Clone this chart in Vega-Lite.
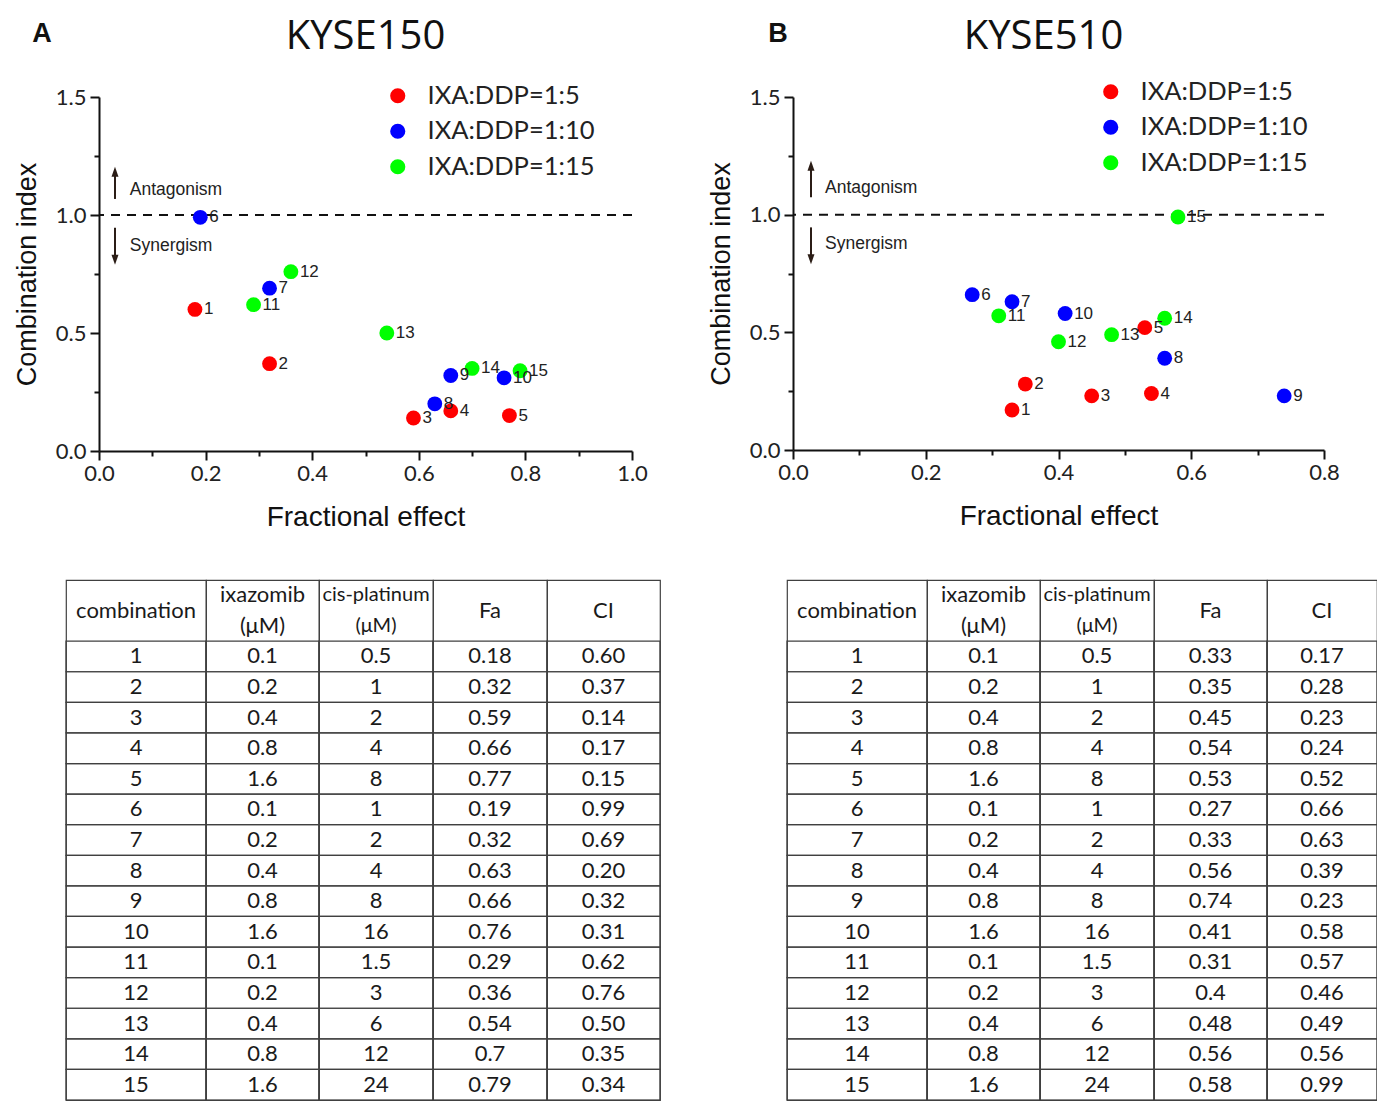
{
  "$schema": "https://vega.github.io/schema/vega-lite/v6.json",
  "background": "white",
  "padding": {"left": 12, "top": 17, "right": 0, "bottom": 0},
  "datasets": {
    "A": [
      {"combination": 1, "ixazomib": 0.1, "cisplatinum": 0.5, "Fa": 0.18, "CI": 0.60, "ratio": "IXA:DDP=1:5"},
      {"combination": 2, "ixazomib": 0.2, "cisplatinum": 1, "Fa": 0.32, "CI": 0.37, "ratio": "IXA:DDP=1:5"},
      {"combination": 3, "ixazomib": 0.4, "cisplatinum": 2, "Fa": 0.59, "CI": 0.14, "ratio": "IXA:DDP=1:5"},
      {"combination": 4, "ixazomib": 0.8, "cisplatinum": 4, "Fa": 0.66, "CI": 0.17, "ratio": "IXA:DDP=1:5"},
      {"combination": 5, "ixazomib": 1.6, "cisplatinum": 8, "Fa": 0.77, "CI": 0.15, "ratio": "IXA:DDP=1:5"},
      {"combination": 6, "ixazomib": 0.1, "cisplatinum": 1, "Fa": 0.19, "CI": 0.99, "ratio": "IXA:DDP=1:10"},
      {"combination": 7, "ixazomib": 0.2, "cisplatinum": 2, "Fa": 0.32, "CI": 0.69, "ratio": "IXA:DDP=1:10"},
      {"combination": 8, "ixazomib": 0.4, "cisplatinum": 4, "Fa": 0.63, "CI": 0.20, "ratio": "IXA:DDP=1:10"},
      {"combination": 9, "ixazomib": 0.8, "cisplatinum": 8, "Fa": 0.66, "CI": 0.32, "ratio": "IXA:DDP=1:10"},
      {"combination": 10, "ixazomib": 1.6, "cisplatinum": 16, "Fa": 0.76, "CI": 0.31, "ratio": "IXA:DDP=1:10"},
      {"combination": 11, "ixazomib": 0.1, "cisplatinum": 1.5, "Fa": 0.29, "CI": 0.62, "ratio": "IXA:DDP=1:15"},
      {"combination": 12, "ixazomib": 0.2, "cisplatinum": 3, "Fa": 0.36, "CI": 0.76, "ratio": "IXA:DDP=1:15"},
      {"combination": 13, "ixazomib": 0.4, "cisplatinum": 6, "Fa": 0.54, "CI": 0.50, "ratio": "IXA:DDP=1:15"},
      {"combination": 14, "ixazomib": 0.8, "cisplatinum": 12, "Fa": 0.7, "CI": 0.35, "ratio": "IXA:DDP=1:15"},
      {"combination": 15, "ixazomib": 1.6, "cisplatinum": 24, "Fa": 0.79, "CI": 0.34, "ratio": "IXA:DDP=1:15"}
    ],
    "B": [
      {"combination": 1, "ixazomib": 0.1, "cisplatinum": 0.5, "Fa": 0.33, "CI": 0.17, "ratio": "IXA:DDP=1:5"},
      {"combination": 2, "ixazomib": 0.2, "cisplatinum": 1, "Fa": 0.35, "CI": 0.28, "ratio": "IXA:DDP=1:5"},
      {"combination": 3, "ixazomib": 0.4, "cisplatinum": 2, "Fa": 0.45, "CI": 0.23, "ratio": "IXA:DDP=1:5"},
      {"combination": 4, "ixazomib": 0.8, "cisplatinum": 4, "Fa": 0.54, "CI": 0.24, "ratio": "IXA:DDP=1:5"},
      {"combination": 5, "ixazomib": 1.6, "cisplatinum": 8, "Fa": 0.53, "CI": 0.52, "ratio": "IXA:DDP=1:5"},
      {"combination": 6, "ixazomib": 0.1, "cisplatinum": 1, "Fa": 0.27, "CI": 0.66, "ratio": "IXA:DDP=1:10"},
      {"combination": 7, "ixazomib": 0.2, "cisplatinum": 2, "Fa": 0.33, "CI": 0.63, "ratio": "IXA:DDP=1:10"},
      {"combination": 8, "ixazomib": 0.4, "cisplatinum": 4, "Fa": 0.56, "CI": 0.39, "ratio": "IXA:DDP=1:10"},
      {"combination": 9, "ixazomib": 0.8, "cisplatinum": 8, "Fa": 0.74, "CI": 0.23, "ratio": "IXA:DDP=1:10"},
      {"combination": 10, "ixazomib": 1.6, "cisplatinum": 16, "Fa": 0.41, "CI": 0.58, "ratio": "IXA:DDP=1:10"},
      {"combination": 11, "ixazomib": 0.1, "cisplatinum": 1.5, "Fa": 0.31, "CI": 0.57, "ratio": "IXA:DDP=1:15"},
      {"combination": 12, "ixazomib": 0.2, "cisplatinum": 3, "Fa": 0.4, "CI": 0.46, "ratio": "IXA:DDP=1:15"},
      {"combination": 13, "ixazomib": 0.4, "cisplatinum": 6, "Fa": 0.48, "CI": 0.49, "ratio": "IXA:DDP=1:15"},
      {"combination": 14, "ixazomib": 0.8, "cisplatinum": 12, "Fa": 0.56, "CI": 0.56, "ratio": "IXA:DDP=1:15"},
      {"combination": 15, "ixazomib": 1.6, "cisplatinum": 24, "Fa": 0.58, "CI": 0.99, "ratio": "IXA:DDP=1:15"}
    ]
  },
  "config": {"view": {"stroke": null}, "concat": {"spacing": 0}},
  "resolve": {"scale": {"color": "independent"}, "legend": {"color": "independent"}},
  "spacing": 48,
  "vconcat": [
    {
      "spacing": 0,
      "resolve": {"scale": {"color": "independent"}, "legend": {"color": "independent"}},
      "hconcat": [
        {"width": 1, "height": 1, "data": {"values": [{}]}, "mark": {"type": "rect", "opacity": 0}, "encoding": {}},
        {
          "spacing": 59,
          "resolve": {"scale": {"color": "independent"}, "legend": {"color": "independent"}},
          "hconcat": [
            {
              "title": {"text": "A", "anchor": "start", "frame": "bounds", "font": "Liberation Sans", "fontSize": 27, "fontWeight": "bold", "color": "#111", "offset": 0, "dx": 19, "dy": 31},
              "vconcat": [
                {
                  "title": {"text": "KYSE150", "font": "Open Sans", "fontSize": 40, "fontWeight": "normal", "color": "#111", "offset": 29},
                  "width": 533,
                  "height": 354,
                  "data": {"name": "A"},
                  "resolve": {"axis": {"x": "independent", "y": "independent"}},
                  "layer": [
                    {"data": {"values": [{}]}, "mark": {"type": "rule", "strokeDash": [9, 7], "strokeWidth": 2, "color": "#111"}, "encoding": {"y": {"datum": 1, "type": "quantitative", "axis": null}}},
                    {"data": {"values": [{}]}, "mark": {"type": "rule", "strokeWidth": 2, "color": "#2b1d16"}, "encoding": {
                      "x": {"datum": 0.03, "type": "quantitative", "axis": {"orient": "bottom", "values": [0.1, 0.3, 0.5, 0.7, 0.9], "labels": false, "domain": false, "grid": false, "title": null, "tickSize": 5, "tickWidth": 2, "tickColor": "#111"}},
                      "y": {"datum": 1.068, "type": "quantitative", "axis": {"orient": "left", "values": [0.25, 0.75, 1.25], "labels": false, "domain": false, "grid": false, "title": null, "tickSize": 5, "tickWidth": 2, "tickColor": "#111"}},
                      "y2": {"datum": 1.18}}},
                    {"data": {"values": [{}]}, "mark": {"type": "point", "shape": "M-0.7,1L0,-1L0.7,1Z", "filled": true, "size": 100, "color": "#2b1d16", "opacity": 1}, "encoding": {"x": {"datum": 0.03, "type": "quantitative", "axis": null}, "y": {"datum": 1.183, "type": "quantitative", "axis": null}}},
                    {"data": {"values": [{}]}, "mark": {"type": "rule", "strokeWidth": 2, "color": "#2b1d16"}, "encoding": {"x": {"datum": 0.03, "type": "quantitative", "axis": null}, "y": {"datum": 0.946, "type": "quantitative", "axis": null}, "y2": {"datum": 0.815}}},
                    {"data": {"values": [{}]}, "mark": {"type": "point", "shape": "M-0.7,-1L0,1L0.7,-1Z", "filled": true, "size": 100, "color": "#2b1d16", "opacity": 1}, "encoding": {"x": {"datum": 0.03, "type": "quantitative", "axis": null}, "y": {"datum": 0.81, "type": "quantitative", "axis": null}}},
                    {"data": {"values": [{}]}, "mark": {"type": "text", "text": "Antagonism", "font": "Liberation Sans", "fontSize": 17.5, "align": "left", "baseline": "middle", "color": "#222"}, "encoding": {"x": {"datum": 0.0577, "type": "quantitative", "axis": null}, "y": {"datum": 1.105, "type": "quantitative", "axis": null}}},
                    {"data": {"values": [{}]}, "mark": {"type": "text", "text": "Synergism", "font": "Liberation Sans", "fontSize": 17.5, "align": "left", "baseline": "middle", "color": "#222"}, "encoding": {"x": {"datum": 0.0577, "type": "quantitative", "axis": null}, "y": {"datum": 0.87, "type": "quantitative", "axis": null}}},
                    {
                      "mark": {"type": "point", "filled": true, "size": 220, "opacity": 1},
                      "encoding": {
                        "x": {"field": "Fa", "type": "quantitative", "scale": {"domain": [0, 1], "nice": false, "zero": false},
                          "axis": {"orient": "bottom", "values": [0, 0.2, 0.4, 0.6, 0.8, 1], "format": ".1f", "tickSize": 9, "title": "Fractional effect", "grid": false, "domainColor": "#111", "domainWidth": 2, "tickColor": "#111", "tickWidth": 2, "labelFont": "Lato", "labelFontSize": 22, "labelColor": "#222", "labelPadding": 3, "labelFlush": false, "labelOverlap": false, "titleFont": "Liberation Sans", "titleFontSize": 28, "titleFontWeight": "normal", "titleColor": "#111", "titlePadding": 19}},
                        "y": {"field": "CI", "type": "quantitative", "scale": {"domain": [0, 1.5], "nice": false, "zero": false},
                          "axis": {"orient": "left", "values": [0, 0.5, 1, 1.5], "format": ".1f", "tickSize": 9, "title": "Combination index", "grid": false, "domainColor": "#111", "domainWidth": 2, "tickColor": "#111", "tickWidth": 2, "labelFont": "Lato", "labelFontSize": 22, "labelColor": "#222", "labelPadding": 4, "labelFlush": false, "labelOverlap": false, "titleFont": "Liberation Sans", "titleFontSize": 27, "titleFontWeight": "normal", "titleColor": "#111", "titlePadding": 14}},
                        "color": {"field": "ratio", "type": "nominal", "scale": {"domain": ["IXA:DDP=1:5", "IXA:DDP=1:10", "IXA:DDP=1:15"], "range": ["#ff0000", "#0000ff", "#00ff00"]},
                          "legend": {"title": null, "orient": "none", "legendX": 286, "legendY": -14, "direction": "vertical", "labelFont": "Lato", "labelFontSize": 25.5, "labelColor": "#222", "labelOffset": 17, "symbolSize": 230, "symbolType": "circle", "symbolStrokeWidth": 0, "rowPadding": 8.5, "padding": 0, "labelLimit": 400}}
                      }
                    },
                    {"mark": {"type": "text", "align": "left", "baseline": "middle", "dx": 9, "font": "Liberation Sans", "fontSize": 17, "color": "#222"}, "encoding": {"x": {"field": "Fa", "type": "quantitative", "axis": null}, "y": {"field": "CI", "type": "quantitative", "axis": null}, "text": {"field": "combination", "type": "nominal"}}}
                  ]
                }
              ]
            },
            {
              "title": {"text": "B", "anchor": "start", "frame": "bounds", "font": "Liberation Sans", "fontSize": 27, "fontWeight": "bold", "color": "#111", "offset": 0, "dx": 61, "dy": 31},
              "vconcat": [
                {
                  "title": {"text": "KYSE510", "font": "Open Sans", "fontSize": 40, "fontWeight": "normal", "color": "#111", "offset": 29, "dx": -15},
                  "width": 531,
                  "height": 353,
                  "data": {"name": "B"},
                  "resolve": {"axis": {"x": "independent", "y": "independent"}},
                  "layer": [
                    {"data": {"values": [{}]}, "mark": {"type": "rule", "strokeDash": [9, 7], "strokeWidth": 2, "color": "#111"}, "encoding": {"y": {"datum": 1, "type": "quantitative", "axis": null}}},
                    {"data": {"values": [{}]}, "mark": {"type": "rule", "strokeWidth": 2, "color": "#2b1d16"}, "encoding": {
                      "x": {"datum": 0.0271, "type": "quantitative", "axis": {"orient": "bottom", "values": [0.1, 0.3, 0.5, 0.7], "labels": false, "domain": false, "grid": false, "title": null, "tickSize": 5, "tickWidth": 2, "tickColor": "#111"}},
                      "y": {"datum": 1.074, "type": "quantitative", "axis": {"orient": "left", "values": [0.25, 0.75, 1.25], "labels": false, "domain": false, "grid": false, "title": null, "tickSize": 5, "tickWidth": 2, "tickColor": "#111"}},
                      "y2": {"datum": 1.205}}},
                    {"data": {"values": [{}]}, "mark": {"type": "point", "shape": "M-0.7,1L0,-1L0.7,1Z", "filled": true, "size": 100, "color": "#2b1d16", "opacity": 1}, "encoding": {"x": {"datum": 0.0271, "type": "quantitative", "axis": null}, "y": {"datum": 1.208, "type": "quantitative", "axis": null}}},
                    {"data": {"values": [{}]}, "mark": {"type": "rule", "strokeWidth": 2, "color": "#2b1d16"}, "encoding": {"x": {"datum": 0.0271, "type": "quantitative", "axis": null}, "y": {"datum": 0.946, "type": "quantitative", "axis": null}, "y2": {"datum": 0.815}}},
                    {"data": {"values": [{}]}, "mark": {"type": "point", "shape": "M-0.7,-1L0,1L0.7,-1Z", "filled": true, "size": 100, "color": "#2b1d16", "opacity": 1}, "encoding": {"x": {"datum": 0.0271, "type": "quantitative", "axis": null}, "y": {"datum": 0.811, "type": "quantitative", "axis": null}}},
                    {"data": {"values": [{}]}, "mark": {"type": "text", "text": "Antagonism", "font": "Liberation Sans", "fontSize": 17.5, "align": "left", "baseline": "middle", "color": "#222"}, "encoding": {"x": {"datum": 0.0482, "type": "quantitative", "axis": null}, "y": {"datum": 1.112, "type": "quantitative", "axis": null}}},
                    {"data": {"values": [{}]}, "mark": {"type": "text", "text": "Synergism", "font": "Liberation Sans", "fontSize": 17.5, "align": "left", "baseline": "middle", "color": "#222"}, "encoding": {"x": {"datum": 0.0482, "type": "quantitative", "axis": null}, "y": {"datum": 0.875, "type": "quantitative", "axis": null}}},
                    {
                      "mark": {"type": "point", "filled": true, "size": 220, "opacity": 1},
                      "encoding": {
                        "x": {"field": "Fa", "type": "quantitative", "scale": {"domain": [0, 0.8], "nice": false, "zero": false},
                          "axis": {"orient": "bottom", "values": [0, 0.2, 0.4, 0.6, 0.8], "format": ".1f", "tickSize": 9, "title": "Fractional effect", "grid": false, "domainColor": "#111", "domainWidth": 2, "tickColor": "#111", "tickWidth": 2, "labelFont": "Lato", "labelFontSize": 22, "labelColor": "#222", "labelPadding": 3, "labelFlush": false, "labelOverlap": false, "titleFont": "Liberation Sans", "titleFontSize": 28, "titleFontWeight": "normal", "titleColor": "#111", "titlePadding": 19}},
                        "y": {"field": "CI", "type": "quantitative", "scale": {"domain": [0, 1.5], "nice": false, "zero": false},
                          "axis": {"orient": "left", "values": [0, 0.5, 1, 1.5], "format": ".1f", "tickSize": 9, "title": "Combination index", "grid": false, "domainColor": "#111", "domainWidth": 2, "tickColor": "#111", "tickWidth": 2, "labelFont": "Lato", "labelFontSize": 22, "labelColor": "#222", "labelPadding": 4, "labelFlush": false, "labelOverlap": false, "titleFont": "Liberation Sans", "titleFontSize": 27, "titleFontWeight": "normal", "titleColor": "#111", "titlePadding": 14}},
                        "color": {"field": "ratio", "type": "nominal", "scale": {"domain": ["IXA:DDP=1:5", "IXA:DDP=1:10", "IXA:DDP=1:15"], "range": ["#ff0000", "#0000ff", "#00ff00"]},
                          "legend": {"title": null, "orient": "none", "legendX": 305, "legendY": -18, "direction": "vertical", "labelFont": "Lato", "labelFontSize": 25.5, "labelColor": "#222", "labelOffset": 17, "symbolSize": 230, "symbolType": "circle", "symbolStrokeWidth": 0, "rowPadding": 8.5, "padding": 0, "labelLimit": 400}}
                      }
                    },
                    {"mark": {"type": "text", "align": "left", "baseline": "middle", "dx": 9, "font": "Liberation Sans", "fontSize": 17, "color": "#222"}, "encoding": {"x": {"field": "Fa", "type": "quantitative", "axis": null}, "y": {"field": "CI", "type": "quantitative", "axis": null}, "text": {"field": "combination", "type": "nominal"}}}
                  ]
                }
              ]
            }
          ]
        }
      ]
    },
    {
      "spacing": 0,
      "hconcat": [
        {"width": 52, "height": 1, "data": {"values": [{}]}, "mark": {"type": "rect", "opacity": 0}, "encoding": {}},
        {
          "spacing": 123,
          "hconcat": [
            {
              "spacing": 0,
              "bounds": "flush",
              "hconcat": [
                {"width": 140, "height": 520, "view": {"stroke": "#404040", "strokeWidth": 1.2},
                  "layer": [
                    {"data": {"name": "A"}, "mark": {"type": "rect", "filled": false, "stroke": "#404040", "strokeWidth": 1.2}, "encoding": {"y": {"field": "combination", "type": "ordinal", "scale": {"domain": ["h1", "h2", 1, 2, 3, 4, 5, 6, 7, 8, 9, 10, 11, 12, 13, 14, 15], "paddingInner": 0, "paddingOuter": 0}, "axis": null}}},
                    {"data": {"name": "A"}, "mark": {"type": "text", "font": "Lato", "fontSize": 22, "baseline": "middle", "color": "#1a1a1a"}, "encoding": {"y": {"field": "combination", "type": "ordinal", "axis": null}, "text": {"field": "combination", "type": "quantitative"}}},
                    {"data": {"values": [{"line": "h1", "label": "combination"}]}, "mark": {"type": "text", "font": "Lato", "fontSize": 22, "baseline": "middle", "color": "#1a1a1a"}, "encoding": {"y": {"field": "line", "type": "ordinal", "bandPosition": 1, "axis": null}, "text": {"field": "label", "type": "nominal"}}}
                  ]},
                {"width": 113, "height": 520, "view": {"stroke": "#404040", "strokeWidth": 1.2},
                  "layer": [
                    {"data": {"name": "A"}, "mark": {"type": "rect", "filled": false, "stroke": "#404040", "strokeWidth": 1.2}, "encoding": {"y": {"field": "combination", "type": "ordinal", "scale": {"domain": ["h1", "h2", 1, 2, 3, 4, 5, 6, 7, 8, 9, 10, 11, 12, 13, 14, 15], "paddingInner": 0, "paddingOuter": 0}, "axis": null}}},
                    {"data": {"name": "A"}, "mark": {"type": "text", "font": "Lato", "fontSize": 22, "baseline": "middle", "color": "#1a1a1a"}, "encoding": {"y": {"field": "combination", "type": "ordinal", "axis": null}, "text": {"field": "ixazomib", "type": "quantitative"}}},
                    {"data": {"values": [{"line": "h1", "label": "ixazomib"}, {"line": "h2", "label": "(μM)"}]}, "mark": {"type": "text", "font": "Lato", "fontSize": 22, "baseline": "middle", "color": "#1a1a1a"}, "encoding": {"y": {"field": "line", "type": "ordinal", "axis": null}, "text": {"field": "label", "type": "nominal"}}}
                  ]},
                {"width": 114, "height": 520, "view": {"stroke": "#404040", "strokeWidth": 1.2},
                  "layer": [
                    {"data": {"name": "A"}, "mark": {"type": "rect", "filled": false, "stroke": "#404040", "strokeWidth": 1.2}, "encoding": {"y": {"field": "combination", "type": "ordinal", "scale": {"domain": ["h1", "h2", 1, 2, 3, 4, 5, 6, 7, 8, 9, 10, 11, 12, 13, 14, 15], "paddingInner": 0, "paddingOuter": 0}, "axis": null}}},
                    {"data": {"name": "A"}, "mark": {"type": "text", "font": "Lato", "fontSize": 22, "baseline": "middle", "color": "#1a1a1a"}, "encoding": {"y": {"field": "combination", "type": "ordinal", "axis": null}, "text": {"field": "cisplatinum", "type": "quantitative"}}},
                    {"data": {"values": [{"line": "h1", "label": "cis-platinum"}, {"line": "h2", "label": "(μM)"}]}, "mark": {"type": "text", "font": "Lato", "fontSize": 20, "baseline": "middle", "color": "#1a1a1a"}, "encoding": {"y": {"field": "line", "type": "ordinal", "axis": null}, "text": {"field": "label", "type": "nominal"}}}
                  ]},
                {"width": 114, "height": 520, "view": {"stroke": "#404040", "strokeWidth": 1.2},
                  "layer": [
                    {"data": {"name": "A"}, "mark": {"type": "rect", "filled": false, "stroke": "#404040", "strokeWidth": 1.2}, "encoding": {"y": {"field": "combination", "type": "ordinal", "scale": {"domain": ["h1", "h2", 1, 2, 3, 4, 5, 6, 7, 8, 9, 10, 11, 12, 13, 14, 15], "paddingInner": 0, "paddingOuter": 0}, "axis": null}}},
                    {"data": {"name": "A"}, "mark": {"type": "text", "font": "Lato", "fontSize": 22, "baseline": "middle", "color": "#1a1a1a"}, "encoding": {"y": {"field": "combination", "type": "ordinal", "axis": null}, "text": {"field": "Fa", "type": "quantitative"}}},
                    {"data": {"values": [{"line": "h1", "label": "Fa"}]}, "mark": {"type": "text", "font": "Lato", "fontSize": 22, "baseline": "middle", "color": "#1a1a1a"}, "encoding": {"y": {"field": "line", "type": "ordinal", "bandPosition": 1, "axis": null}, "text": {"field": "label", "type": "nominal"}}}
                  ]},
                {"width": 113, "height": 520, "view": {"stroke": "#404040", "strokeWidth": 1.2},
                  "layer": [
                    {"data": {"name": "A"}, "mark": {"type": "rect", "filled": false, "stroke": "#404040", "strokeWidth": 1.2}, "encoding": {"y": {"field": "combination", "type": "ordinal", "scale": {"domain": ["h1", "h2", 1, 2, 3, 4, 5, 6, 7, 8, 9, 10, 11, 12, 13, 14, 15], "paddingInner": 0, "paddingOuter": 0}, "axis": null}}},
                    {"data": {"name": "A"}, "mark": {"type": "text", "font": "Lato", "fontSize": 22, "baseline": "middle", "color": "#1a1a1a"}, "encoding": {"y": {"field": "combination", "type": "ordinal", "axis": null}, "text": {"field": "CI", "type": "quantitative", "format": ".2f"}}},
                    {"data": {"values": [{"line": "h1", "label": "CI"}]}, "mark": {"type": "text", "font": "Lato", "fontSize": 22, "baseline": "middle", "color": "#1a1a1a"}, "encoding": {"y": {"field": "line", "type": "ordinal", "bandPosition": 1, "axis": null}, "text": {"field": "label", "type": "nominal"}}}
                  ]}
              ]
            },
            {
              "spacing": 0,
              "bounds": "flush",
              "hconcat": [
                {"width": 140, "height": 520, "view": {"stroke": "#404040", "strokeWidth": 1.2},
                  "layer": [
                    {"data": {"name": "B"}, "mark": {"type": "rect", "filled": false, "stroke": "#404040", "strokeWidth": 1.2}, "encoding": {"y": {"field": "combination", "type": "ordinal", "scale": {"domain": ["h1", "h2", 1, 2, 3, 4, 5, 6, 7, 8, 9, 10, 11, 12, 13, 14, 15], "paddingInner": 0, "paddingOuter": 0}, "axis": null}}},
                    {"data": {"name": "B"}, "mark": {"type": "text", "font": "Lato", "fontSize": 22, "baseline": "middle", "color": "#1a1a1a"}, "encoding": {"y": {"field": "combination", "type": "ordinal", "axis": null}, "text": {"field": "combination", "type": "quantitative"}}},
                    {"data": {"values": [{"line": "h1", "label": "combination"}]}, "mark": {"type": "text", "font": "Lato", "fontSize": 22, "baseline": "middle", "color": "#1a1a1a"}, "encoding": {"y": {"field": "line", "type": "ordinal", "bandPosition": 1, "axis": null}, "text": {"field": "label", "type": "nominal"}}}
                  ]},
                {"width": 113, "height": 520, "view": {"stroke": "#404040", "strokeWidth": 1.2},
                  "layer": [
                    {"data": {"name": "B"}, "mark": {"type": "rect", "filled": false, "stroke": "#404040", "strokeWidth": 1.2}, "encoding": {"y": {"field": "combination", "type": "ordinal", "scale": {"domain": ["h1", "h2", 1, 2, 3, 4, 5, 6, 7, 8, 9, 10, 11, 12, 13, 14, 15], "paddingInner": 0, "paddingOuter": 0}, "axis": null}}},
                    {"data": {"name": "B"}, "mark": {"type": "text", "font": "Lato", "fontSize": 22, "baseline": "middle", "color": "#1a1a1a"}, "encoding": {"y": {"field": "combination", "type": "ordinal", "axis": null}, "text": {"field": "ixazomib", "type": "quantitative"}}},
                    {"data": {"values": [{"line": "h1", "label": "ixazomib"}, {"line": "h2", "label": "(μM)"}]}, "mark": {"type": "text", "font": "Lato", "fontSize": 22, "baseline": "middle", "color": "#1a1a1a"}, "encoding": {"y": {"field": "line", "type": "ordinal", "axis": null}, "text": {"field": "label", "type": "nominal"}}}
                  ]},
                {"width": 114, "height": 520, "view": {"stroke": "#404040", "strokeWidth": 1.2},
                  "layer": [
                    {"data": {"name": "B"}, "mark": {"type": "rect", "filled": false, "stroke": "#404040", "strokeWidth": 1.2}, "encoding": {"y": {"field": "combination", "type": "ordinal", "scale": {"domain": ["h1", "h2", 1, 2, 3, 4, 5, 6, 7, 8, 9, 10, 11, 12, 13, 14, 15], "paddingInner": 0, "paddingOuter": 0}, "axis": null}}},
                    {"data": {"name": "B"}, "mark": {"type": "text", "font": "Lato", "fontSize": 22, "baseline": "middle", "color": "#1a1a1a"}, "encoding": {"y": {"field": "combination", "type": "ordinal", "axis": null}, "text": {"field": "cisplatinum", "type": "quantitative"}}},
                    {"data": {"values": [{"line": "h1", "label": "cis-platinum"}, {"line": "h2", "label": "(μM)"}]}, "mark": {"type": "text", "font": "Lato", "fontSize": 20, "baseline": "middle", "color": "#1a1a1a"}, "encoding": {"y": {"field": "line", "type": "ordinal", "axis": null}, "text": {"field": "label", "type": "nominal"}}}
                  ]},
                {"width": 113, "height": 520, "view": {"stroke": "#404040", "strokeWidth": 1.2},
                  "layer": [
                    {"data": {"name": "B"}, "mark": {"type": "rect", "filled": false, "stroke": "#404040", "strokeWidth": 1.2}, "encoding": {"y": {"field": "combination", "type": "ordinal", "scale": {"domain": ["h1", "h2", 1, 2, 3, 4, 5, 6, 7, 8, 9, 10, 11, 12, 13, 14, 15], "paddingInner": 0, "paddingOuter": 0}, "axis": null}}},
                    {"data": {"name": "B"}, "mark": {"type": "text", "font": "Lato", "fontSize": 22, "baseline": "middle", "color": "#1a1a1a"}, "encoding": {"y": {"field": "combination", "type": "ordinal", "axis": null}, "text": {"field": "Fa", "type": "quantitative"}}},
                    {"data": {"values": [{"line": "h1", "label": "Fa"}]}, "mark": {"type": "text", "font": "Lato", "fontSize": 22, "baseline": "middle", "color": "#1a1a1a"}, "encoding": {"y": {"field": "line", "type": "ordinal", "bandPosition": 1, "axis": null}, "text": {"field": "label", "type": "nominal"}}}
                  ]},
                {"width": 110, "height": 520, "view": {"stroke": "#404040", "strokeWidth": 1.2},
                  "layer": [
                    {"data": {"name": "B"}, "mark": {"type": "rect", "filled": false, "stroke": "#404040", "strokeWidth": 1.2}, "encoding": {"y": {"field": "combination", "type": "ordinal", "scale": {"domain": ["h1", "h2", 1, 2, 3, 4, 5, 6, 7, 8, 9, 10, 11, 12, 13, 14, 15], "paddingInner": 0, "paddingOuter": 0}, "axis": null}}},
                    {"data": {"name": "B"}, "mark": {"type": "text", "font": "Lato", "fontSize": 22, "baseline": "middle", "color": "#1a1a1a"}, "encoding": {"y": {"field": "combination", "type": "ordinal", "axis": null}, "text": {"field": "CI", "type": "quantitative", "format": ".2f"}}},
                    {"data": {"values": [{"line": "h1", "label": "CI"}]}, "mark": {"type": "text", "font": "Lato", "fontSize": 22, "baseline": "middle", "color": "#1a1a1a"}, "encoding": {"y": {"field": "line", "type": "ordinal", "bandPosition": 1, "axis": null}, "text": {"field": "label", "type": "nominal"}}}
                  ]}
              ]
            }
          ]
        }
      ]
    }
  ]
}
